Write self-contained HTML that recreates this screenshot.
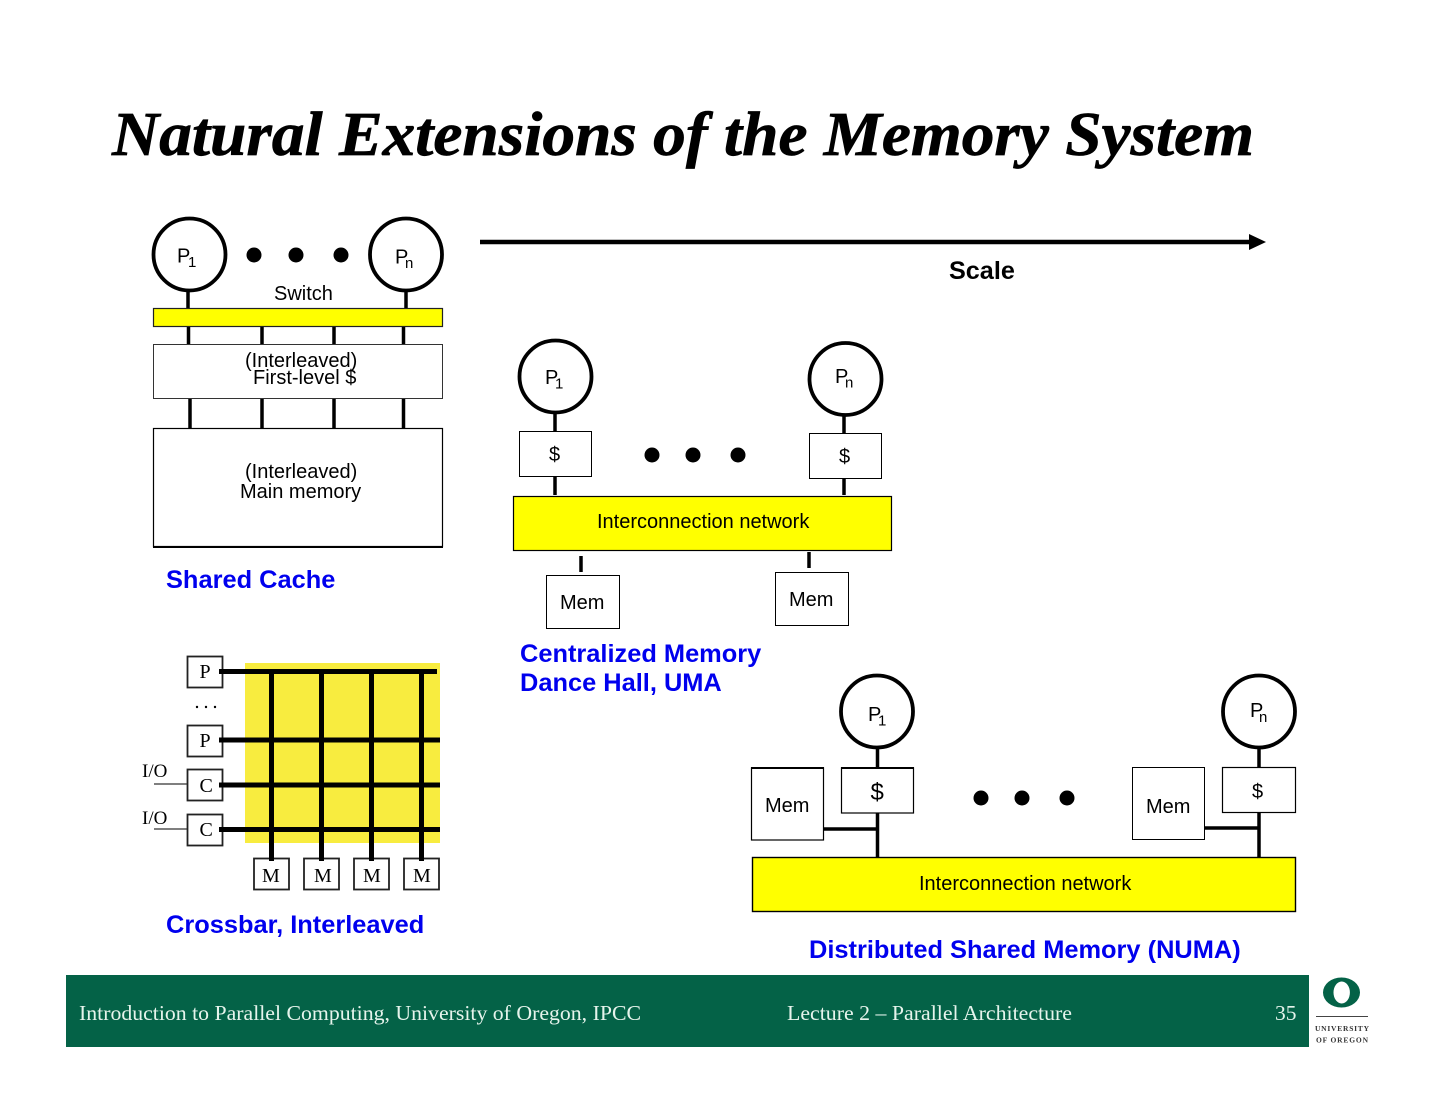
<!DOCTYPE html>
<html><head><meta charset="utf-8"><style>
html,body{margin:0;padding:0;background:#fff;width:1440px;height:1113px;overflow:hidden}
svg{display:block}
.a{font-family:"Liberation Sans",sans-serif;fill:#000}
.s{font-family:"Liberation Serif",serif;fill:#000}
.b{font-family:"Liberation Sans",sans-serif;font-weight:bold;font-size:25.4px;fill:#0000ee}
.f{font-family:"Liberation Serif",serif;font-size:21.5px;fill:#e6f4ec}
</style></head><body>
<svg width="1440" height="1113" viewBox="0 0 1440 1113" xmlns="http://www.w3.org/2000/svg">
<rect width="1440" height="1113" fill="#fff"/>
<text x="112" y="155" font-family="'Liberation Serif',serif" font-weight="bold" font-style="italic" font-size="62" textLength="1142" lengthAdjust="spacingAndGlyphs" fill="#000" stroke="#000" stroke-width="0.700">Natural Extensions of the Memory System</text>

<!-- Shared cache -->
<g stroke="#000" stroke-width="3.500" fill="none">
<path d="M188 290V308M406 290V308M188.500 327V344M262 327V344M334 327V344M403.500 327V344M190 399V428M262 399V428M334 399V428M403.500 399V428"/>
</g>
<g stroke="#000" stroke-width="3.800" fill="none">
<circle cx="189.500" cy="254.500" r="36"/><circle cx="406" cy="254.500" r="36"/>
</g>
<circle cx="254" cy="255" r="7.500"/><circle cx="296" cy="255" r="7.500"/><circle cx="341" cy="255" r="7.500"/>
<text class="a" x="177" y="262.500" font-size="20">P</text><text class="a" x="188" y="267" font-size="15">1</text>
<text class="a" x="395" y="263.500" font-size="20">P</text><text class="a" x="405" y="268" font-size="15">n</text>
<text class="a" x="274" y="300" font-size="20">Switch</text>
<rect x="153.500" y="308.500" width="289" height="18" fill="#ffff00" stroke="#222" stroke-width="1.200"/>
<rect x="153.500" y="344.500" width="289" height="54" fill="#fff" stroke="#333" stroke-width="1"/>
<text class="a" x="245" y="367" font-size="20">(Interleaved)</text>
<text class="a" x="253" y="384" font-size="20">First-level $</text>
<rect x="153.500" y="428.500" width="289" height="118" fill="#fff" stroke="#000" stroke-width="1.200"/>
<path d="M153 547H443" stroke="#000" stroke-width="2"/>
<text class="a" x="245" y="478" font-size="20">(Interleaved)</text>
<text class="a" x="240" y="498" font-size="20">Main memory</text>
<text class="b" x="166" y="588">Shared Cache</text>

<!-- Scale arrow -->
<path d="M480 242H1250" stroke="#000" stroke-width="4.500"/>
<path d="M1249 234L1266 242L1249 250Z" fill="#000"/>
<text class="a" x="949" y="279" font-size="25.200" font-weight="bold">Scale</text>

<!-- Dance hall -->
<g stroke="#000" stroke-width="3.500" fill="none">
<path d="M555 412V431M555 476V495M844 415V433M844 479V495M581 556V572M809 552V568"/>
</g>
<g stroke="#000" stroke-width="3.800" fill="none">
<circle cx="555.500" cy="376.500" r="36"/><circle cx="845.500" cy="379" r="36"/>
</g>
<text class="a" x="545" y="384" font-size="20">P</text><text class="a" x="555" y="388.500" font-size="15">1</text>
<text class="a" x="835" y="383" font-size="20">P</text><text class="a" x="845" y="387.500" font-size="15">n</text>
<rect x="519.500" y="431.500" width="72" height="45" fill="#fff" stroke="#000" stroke-width="1"/>
<rect x="809.500" y="433.500" width="72" height="45" fill="#fff" stroke="#000" stroke-width="1"/>
<text class="a" x="549" y="461" font-size="20">$</text>
<text class="a" x="839" y="463" font-size="20">$</text>
<circle cx="652" cy="455" r="7.500"/><circle cx="693" cy="455" r="7.500"/><circle cx="738" cy="455" r="7.500"/>
<rect x="513.500" y="496.500" width="378" height="54" fill="#ffff00" stroke="#000" stroke-width="1.200"/>
<text class="a" x="597" y="528" font-size="20">Interconnection network</text>
<rect x="546.500" y="575.500" width="73" height="53" fill="#fff" stroke="#000" stroke-width="1"/>
<rect x="775.500" y="572.500" width="73" height="53" fill="#fff" stroke="#000" stroke-width="1"/>
<text class="a" x="560" y="609" font-size="20">Mem</text>
<text class="a" x="789" y="606" font-size="20">Mem</text>
<text class="b" x="520" y="662">Centralized Memory</text>
<text class="b" x="520" y="691">Dance Hall, UMA</text>

<!-- Crossbar -->
<rect x="245" y="663" width="195" height="180" fill="#f8ec3f"/>
<g stroke="#000" stroke-width="5" fill="none">
<path d="M219 671.500H437M219 740H440M219 785H440M219 829.500H440"/>
<path d="M271.500 671V860M321.500 671V860M371.500 671V860M421.500 671V860"/>
</g>
<g fill="#fff" stroke="#222" stroke-width="1.800">
<rect x="187.500" y="656.500" width="35" height="31"/>
<rect x="187.500" y="725.500" width="35" height="31"/>
<rect x="187.500" y="769.500" width="35" height="31"/>
<rect x="187.500" y="814.500" width="35" height="31"/>
<rect x="254" y="858.500" width="35" height="31"/>
<rect x="304" y="858.500" width="35" height="31"/>
<rect x="354" y="858.500" width="35" height="31"/>
<rect x="404" y="858.500" width="35" height="31"/>
</g>
<path d="M219 671.500H224M219 740H224M219 785H224M219 829.500H224" stroke="#000" stroke-width="5"/>
<path d="M271.500 856V861M321.500 856V861M371.500 856V861M421.500 856V861" stroke="#000" stroke-width="5"/>
<path d="M154 784H187M154 829H187" stroke="#333" stroke-width="1.200"/>
<text class="s" x="199.500" y="678" font-size="20">P</text>
<text class="s" x="199.500" y="747" font-size="20">P</text>
<text class="s" x="199.500" y="792" font-size="20">C</text>
<text class="s" x="199.500" y="836" font-size="20">C</text>
<text class="s" x="262" y="882" font-size="20">M</text>
<text class="s" x="314" y="882" font-size="20">M</text>
<text class="s" x="363" y="882" font-size="20">M</text>
<text class="s" x="413" y="882" font-size="20">M</text>
<text class="s" x="142" y="777" font-size="19">I/O</text>
<text class="s" x="142" y="824" font-size="19">I/O</text>
<circle cx="197" cy="707" r="1.200"/><circle cx="206" cy="707" r="1.200"/><circle cx="215" cy="707" r="1.200"/>
<text class="b" x="166" y="933">Crossbar, Interleaved</text>

<!-- NUMA -->
<g stroke="#000" stroke-width="3.500" fill="none">
<path d="M877.500 748V768M877.500 813V857M823 829H877M1259 748V768M1259 813V857M1205 828H1259"/>
</g>
<g stroke="#000" stroke-width="3.800" fill="none">
<circle cx="877" cy="711.500" r="36"/><circle cx="1259" cy="711.500" r="36"/>
</g>
<text class="a" x="868" y="721" font-size="20">P</text><text class="a" x="878" y="725.500" font-size="15">1</text>
<text class="a" x="1250" y="717" font-size="20">P</text><text class="a" x="1259" y="722" font-size="15">n</text>
<rect x="751.500" y="768" width="72" height="72" fill="#fff" stroke="#000" stroke-width="1.200"/>
<path d="M751 768H824" stroke="#000" stroke-width="2"/>
<rect x="841.500" y="768" width="72" height="45" fill="#fff" stroke="#000" stroke-width="1.200"/>
<path d="M841 768H914" stroke="#000" stroke-width="2"/>
<rect x="1132.500" y="767.500" width="72" height="72" fill="#fff" stroke="#000" stroke-width="1"/>
<rect x="1222.500" y="767.500" width="73" height="45" fill="#fff" stroke="#000" stroke-width="1.200"/>
<text class="a" x="765" y="812" font-size="20">Mem</text>
<text class="a" x="1146" y="813" font-size="20">Mem</text>
<text class="a" x="870.500" y="800" font-size="24">$</text>
<text class="a" x="1252" y="798" font-size="20">$</text>
<circle cx="981" cy="798" r="7.500"/><circle cx="1022" cy="798" r="7.500"/><circle cx="1067" cy="798" r="7.500"/>
<rect x="752.500" y="857.500" width="543" height="54" fill="#ffff00" stroke="#000" stroke-width="1.400"/>
<text class="a" x="919" y="890" font-size="20">Interconnection network</text>
<text class="b" x="809" y="958">Distributed Shared Memory (NUMA)</text>

<!-- Footer -->
<rect x="66" y="975" width="1243" height="72" fill="#046247"/>
<text class="f" x="79" y="1020" textLength="562" lengthAdjust="spacingAndGlyphs">Introduction to Parallel Computing, University of Oregon, IPCC</text>
<text class="f" x="787" y="1020" textLength="285" lengthAdjust="spacingAndGlyphs">Lecture 2 – Parallel Architecture</text>
<text class="f" x="1275" y="1020">35</text>

<!-- Logo -->
<path fill-rule="evenodd" fill="#046247" d="M1323 992.500a18.500 15 0 1 0 37 0a18.500 15 0 1 0 -37 0zM1333.500 992.500a8.200 11 0 1 1 16.400 0a8.200 11 0 1 1 -16.400 0z"/>
<path d="M1316 1016.500H1368" stroke="#444" stroke-width="1"/>
<text x="1315" y="1031" font-family="'Liberation Serif',serif" font-size="7.500" font-weight="bold" textLength="54" fill="#333">UNIVERSITY</text>
<text x="1316" y="1042.500" font-family="'Liberation Serif',serif" font-size="7.500" font-weight="bold" textLength="52" fill="#333">OF OREGON</text>
</svg>
</body></html>
